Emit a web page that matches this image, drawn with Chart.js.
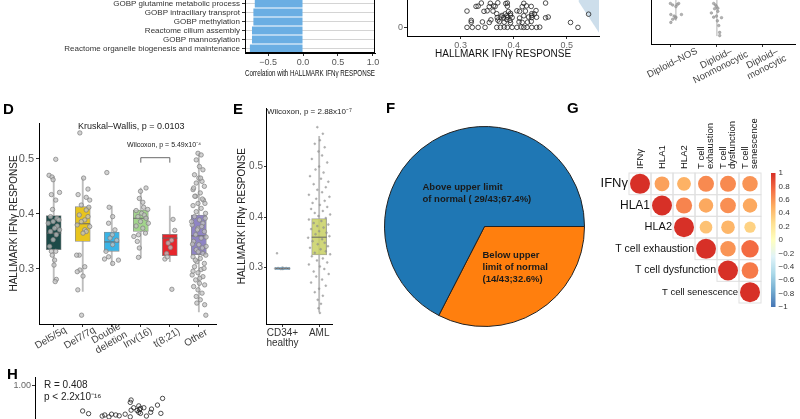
<!DOCTYPE html>
<html>
<head>
<meta charset="utf-8">
<script src="https://cdn.jsdelivr.net/npm/chart.js@4.4.1/dist/chart.umd.min.js"></script>
<style>
html, body { margin: 0; padding: 0; background: #fff; overflow: hidden; }
#wrap { position: relative; width: 800px; height: 419px; overflow: hidden; font-family: "Liberation Sans", Arial, sans-serif; }
canvas { position: absolute; }
.tag { position: absolute; font-weight: bold; font-size: 15px; line-height: 17px; color: #000; }
</style>
</head>
<body>
<div id="wrap">
  <canvas id="cA" width="400" height="80" style="left:0;top:-1px"></canvas>
  <canvas id="cB" width="214" height="140" style="left:390px;top:-80px"></canvas>
  <canvas id="cC" width="170" height="150" style="left:630px;top:-60px"></canvas>
  <canvas id="cD" width="225" height="260" style="left:0;top:100px"></canvas>
  <canvas id="cE" width="125" height="260" style="left:232px;top:100px"></canvas>
  <canvas id="cF" width="201" height="201" style="left:384px;top:126px"></canvas>
  <canvas id="cG" width="240" height="210" style="left:560px;top:110px"></canvas>
  <canvas id="cH" width="380" height="130" style="left:0;top:370px"></canvas>
  <div class="tag" style="left:3px;top:100px">D</div>
  <div class="tag" style="left:233px;top:100px">E</div>
  <div class="tag" style="left:386px;top:99px">F</div>
  <div class="tag" style="left:567px;top:99px">G</div>
  <div class="tag" style="left:7px;top:365px">H</div>
</div>
<script>
// ---- panel A: pathway correlations (top rows cut off) ----
const pathwayNames = ['GOBP glutamine metabolic process', 'GOBP intraciliary transprot', 'GOBP methylation',
  'Reactome cilium assembly', 'GOBP mannosylation', 'Reactome organelle biogenesis and maintenance'];
const pathwayCorr = [-0.69, -0.71, -0.71, -0.73, -0.73, -0.76];

// ---- panel B: scatter vs IFNγ score (upper part cut off) ----
const ifnPts = [
  [.312, 0], [.322, 0], [.333, 0], [.346, 0], [.368, 0], [.375, 0], [.382, .01], [.388, 0], [.397, 0], [.406, 0],
  [.414, .01], [.419, 0], [.425, 0], [.434, 0], [.443, 0], [.449, .01], [.521, 0],
  [.320, .20], [.341, .21], [.354, .19], [.373, .22], [.382, .20], [.394, .18], [.410, .21], [.416, .19], [.426, .20], [.433, .23], [.507, .19],
  [.320, .27], [.357, .29], [.370, .28], [.387, .30], [.393, .27],
  [.369, .38], [.376, .40], [.381, .37], [.388, .39], [.397, .38], [.411, .36], [.428, .40], [.434, .38], [.443, .39], [.460, .37], [.465, .40],
  [.378, .46], [.387, .45], [.394, .47], [.419, .45], [.434, .46],
  [.368, .53], [.384, .52], [.394, .54], [.434, .53], [.439, .52], [.541, .51],
  [.312, .63], [.344, .62], [.350, .64], [.361, .63], [.390, .61], [.406, .64], [.411, .62], [.422, .63], [.442, .65],
  [.329, .81], [.333, .82], [.354, .80], [.362, .83], [.365, .81], [.388, .82], [.416, .80], [.424, .83], [.433, .81],
  [.339, .94], [.356, .93], [.370, .95], [.385, .92], [.388, .94], [.419, .93], [.460, .94]
];
const bandX = [0.522, 0.561];
const bandY = [1.0, -0.22];

// ---- panel C: diploid subgroups (cut off) ----
const diploidNames = [['Diploid–NOS'], ['Diploid–', 'Nonmonocytic'], ['Diploid–', 'monocytic']];
const diploidPts = [
  [[0, .277], [.05, .274], [.12, .271], [.15, .275], [.01, .256], [.08, .253], [.12, .251], [.24, .256], [.01, .241], [.05, .247], [.11, .249], [.18, .277]],
  [[-.06, .277], [-.02, .274], [0, .271], [.03, .268], [-.04, .267], [-.06, .251], [0, .253], [.02, .244], [.05, .235], [.07, .222], [.11, .25], [.07, .216], [-.11, .259], [.03, .262]],
  []
];
const diploidWhisk = [[0.12, 0.244, 0.29], [0.01, 0.215, 0.29]];

// ---- panel D: cytogenetic groups ----
const groupNames = [['Del5/5q'], ['Del7/7q'], ['Double', 'deletion'], ['Inv(16)'], ['t(8;21)'], ['Other']];
const boxColors = ['#1d4a48', '#e8c41d', '#3ab4e6', '#a2d48c', '#e6262c', '#8f84c4'];
const boxQ1 = [0.335, 0.350, 0.332, 0.368, 0.324, 0.326];
const boxMed = [0.365, 0.382, 0.349, 0.392, 0.356, 0.360];
const boxQ3 = [0.397, 0.413, 0.367, 0.407, 0.363, 0.398];
const whiskLo = [0.280, 0.259, 0.307, 0.320, 0.313, 0.222];
const whiskHi = [0.468, 0.465, 0.414, 0.447, 0.414, 0.510];
const groupPts = [
  [[.07, .499], [-.16, .470], [-.06, .467], [-.02, .462], [-.08, .435], [.20, .439], [.07, .425], [-.04, .408], [-.11, .395], [.11, .392],
   [.18, .389], [-.02, .386], [-.19, .383], [.12, .378], [.03, .374], [.20, .371], [-.11, .368], [.09, .362], [-.02, .353], [-.14, .341],
   [-.08, .332], [.07, .332], [-.05, .325], [.03, .316], [.01, .307], [.09, .281], [.05, .277]],
  [[-.10, .547], [.03, .465], [.18, .445], [-.16, .435], [.12, .430], [.24, .425], [-.05, .416], [.21, .412], [.12, .407], [-.12, .398],
   [.18, .395], [.07, .389], [-.05, .386], [-.19, .380], [.24, .377], [.07, .371], [.12, .368], [.01, .365], [-.12, .325], [-.21, .325],
   [.07, .304], [-.10, .298], [.01, .287], [-.19, .295], [-.17, .262], [-.04, .216]],
  [[-.17, .475], [-.09, .412], [.03, .395], [-.11, .383], [.11, .371], [.02, .362], [-.06, .356], [.17, .352], [.03, .344], [-.20, .332],
   [-.11, .322], [.23, .316], [.03, .310], [-.25, .318]],
  [[.18, .447], [-.01, .441], [-.05, .428], [.07, .421], [.10, .412], [.24, .408], [-.16, .406], [.03, .401], [.12, .398], [-.10, .395],
   [.18, .392], [-.01, .386], [.26, .383], [-.16, .378], [.07, .374], [-.08, .362], [-.12, .350], [-.05, .338], [-.08, .321], [-.24, .359], [.16, .365]],
  [[.11, .390], [.17, .370], [.06, .352], [-.06, .347], [.02, .339], [-.11, .328], [-.17, .318], [-.09, .322], [.07, .263]],
  [[-.03, .510], [.08, .507], [-.09, .498], [.02, .486], [.14, .480], [-.15, .471], [0, .465], [.11, .459], [-.09, .456], [.19, .450],
   [-.20, .444], [.05, .438], [-.11, .432], [.16, .425], [-.03, .419], [-.20, .415], [.08, .410], [-.09, .404], [.23, .401], [-.15, .395],
   [.02, .389], [.14, .383], [-.23, .380], [-.03, .374], [.19, .368], [-.11, .362], [.08, .356], [-.18, .350], [0, .344], [.25, .341],
   [-.09, .335], [.14, .328], [-.20, .322], [.05, .319], [-.07, .313], [.19, .310], [-.15, .304], [.08, .299], [-.03, .293], [-.23, .289],
   [.14, .286], [-.11, .280], [.02, .274], [.20, .271], [-.18, .268], [-.03, .262], [.11, .256], [-.09, .250], [.05, .244], [.20, .235],
   [.24, .216], [-.07, .238], [.22, .392], [-.25, .386], [.10, .377], [-.05, .371], [.25, .358], [-.22, .345], [.12, .338], [-.02, .331],
   [.24, .325], [-.12, .316], [.18, .301], [-.20, .296], [.03, .283], [-.14, .432], [.21, .419], [.06, .465], [-.18, .447], [.12, .427]]
];

// ---- panel E: CD34+ healthy vs AML ----
const eNames = [['CD34+', 'healthy'], ['AML']];
const eColors = ['#3f7fa8', 'rgba(200,208,100,0.85)'];
const eBorders = ['#3f7fa8', '#a3a3a3'];
const eQ1 = [0.296, 0.325];
const eMed = [0.298, 0.360];
const eQ3 = [0.300, 0.397];
const eLo = [0.295, 0.212];
const eHi = [0.302, 0.560];
const ePts = [
  [[-.20, .298], [-.12, .299], [-.05, .297], [.03, .298], [.10, .299], [.18, .298], [-.15, .328]],
  [[-.05, .578], [.10, .565], [.02, .552], [-.12, .545], [.15, .538], [-.02, .530], [.08, .522], [-.20, .515], [.22, .508], [0, .500],
   [-.10, .494], [.12, .488], [-.25, .481], [.05, .476], [.25, .470], [-.15, .465], [.18, .459], [-.05, .454], [.08, .449], [-.28, .444],
   [.28, .440], [-.08, .436], [.15, .432], [-.18, .428], [.02, .424], [.22, .420], [-.22, .416], [.10, .412], [-.12, .408], [.30, .405],
   [-.02, .402], [.18, .398], [-.28, .395], [.06, .392], [-.15, .388], [.25, .385], [-.05, .382], [.12, .379], [-.22, .376], [0, .372],
   [.20, .369], [-.10, .366], [.28, .362], [-.30, .359], [.08, .356], [-.18, .352], [.15, .349], [-.04, .346], [.24, .342], [-.25, .339],
   [.04, .336], [.18, .332], [-.12, .329], [.30, .326], [-.20, .322], [.10, .318], [-.06, .314], [.22, .310], [-.28, .306], [.02, .302],
   [.14, .297], [-.15, .292], [.26, .287], [-.08, .282], [.08, .276], [-.22, .270], [.18, .264], [0, .258], [-.12, .251], [.10, .244],
   [-.04, .236], [.05, .228], [-.02, .219], [.02, .210]]
];

// ---- panel F: pie ----
const pieLabels = ['Below upper limit of normal', 'Above upper limit of normal'];
const pieCounts = [14, 29];
const pieColors = ['#ff7f0e', '#1f77b4'];
const pieText = [['Below upper', 'limit of normal', '(14/43;32.6%)'], ['Above upper limit', 'of normal ( 29/43;67.4%)']];

// ---- panel G: correlation matrix ----
const corrNames = ['IFNγ', 'HLA1', 'HLA2', 'T cell exhaustion', 'T cell dysfunction', 'T cell senescence'];
const corrColNames = [['IFNγ'], ['HLA1'], ['HLA2'], ['T cell', 'exhaustion'], ['T cell', 'dysfunction'], ['T cell', 'senescence']];
const corrUpper = [
  [1.00, 0.55, 0.48, 0.64, 0.64, 0.60],
  [null, 1.00, 0.66, 0.52, 0.62, 0.52],
  [null, null, 1.00, 0.40, 0.46, 0.32],
  [null, null, null, 1.00, 0.60, 0.76],
  [null, null, null, null, 1.00, 0.70],
  [null, null, null, null, null, 1.00]
];
const corrTicks = [1, 0.8, 0.6, 0.4, 0.2, 0, -0.2, -0.4, -0.6, -0.8, -1];
const rdylbu = ['#4575b4', '#74add1', '#abd9e9', '#e0f3f8', '#ffffbf', '#fee090', '#fdae61', '#f46d43', '#d73027'];

// ---- panel H: scatter (lower part cut off) ----
const hPts = [
  [.256, .903], [.263, .893], [.279, .884], [.282, .888], [.290, .891], [.295, .888], [.299, .885], [.306, .891], [.312, .935], [.313, .944],
  [.313, .906], [.316, .915], [.322, .922], [.324, .913], [.328, .915], [.322, .898], [.324, .894], [.331, .884], [.336, .898], [.337, .910],
  [.344, .925], [.348, .894], [.350, .950], [.312, .881], [.287, .881], [.320, .905], [.323, .908]
];

const FONT = '"Liberation Sans", Arial, sans-serif';
Chart.defaults.font.family = FONT;
Chart.defaults.animation = false;
Chart.defaults.responsive = false;
Chart.defaults.plugins.legend.display = false;
Chart.defaults.plugins.tooltip.enabled = false;

// fixes an axis box size so the plot area lands where the figure has it
function fitTo(size) {
  return function (s) {
    if (s.isHorizontal()) s.height = size; else s.width = size;
    s.paddingLeft = 0; s.paddingRight = 0; s.paddingTop = 0; s.paddingBottom = 0;
  };
}
function setTicks(vals) {
  return function (s) { s.ticks = vals.map(v => ({ value: v })); };
}
function fmt(v, d) {
  return (v < 0 ? '\u2212' : '') + Math.abs(v).toFixed(d);
}
function rotText(ctx, lines, x, y, deg, size, color) {
  ctx.save();
  ctx.translate(x, y);
  ctx.rotate(-deg * Math.PI / 180);
  ctx.font = size + 'px ' + FONT;
  ctx.fillStyle = color;
  ctx.textAlign = 'center';
  ctx.textBaseline = 'middle';
  const lh = size * 1.05;
  lines.forEach((t, k) => ctx.fillText(t, 0, (k - (lines.length - 1) / 2) * lh));
  ctx.restore();
}
function hexRgb(h) {
  return [parseInt(h.slice(1, 3), 16), parseInt(h.slice(3, 5), 16), parseInt(h.slice(5, 7), 16)];
}
function corrColor(v) {
  const t = (v + 1) / 2 * (rdylbu.length - 1);
  const i = Math.min(Math.floor(t), rdylbu.length - 2);
  const f = t - i;
  const a = hexRgb(rdylbu[i]), b = hexRgb(rdylbu[i + 1]);
  const c = a.map((x, k) => Math.round(x + (b[k] - x) * f));
  return 'rgb(' + c.join(',') + ')';
}

const axisGrey = '#555';

// panel A
const framePlugin = {
  id: 'frame',
  afterDraw(chart) {
    const { ctx, chartArea: ca } = chart;
    ctx.save();
    ctx.strokeStyle = '#000';
    ctx.lineWidth = 1;
    ctx.strokeRect(ca.left + 0.5, ca.top + 0.5, ca.width - 1, ca.height - 1);
    ctx.restore();
  }
};
new Chart(document.getElementById('cA'), {
  type: 'bar',
  data: {
    labels: pathwayNames,
    datasets: [{ data: pathwayCorr, backgroundColor: '#6aaee3', barPercentage: 0.9, categoryPercentage: 1 }]
  },
  options: {
    indexAxis: 'y',
    layout: { padding: { left: 0, right: 25, top: 0, bottom: 0 } },
    scales: {
      x: {
        type: 'linear', min: -0.83, max: 1.03,
        afterFit: fitTo(26), afterBuildTicks: setTicks([-0.5, 0, 0.5, 1]),
        ticks: { callback: v => fmt(v, 1), color: axisGrey, font: { size: 9 }, padding: 1 },
        grid: { drawOnChartArea: false, tickLength: 3, tickColor: '#333' },
        border: { color: '#000' },
        title: { display: true, text: 'Correlation with HALLMARK IFNγ RESPONSE', color: '#111', font: { size: 9 }, padding: 0 }
      },
      y: {
        afterFit: fitTo(245),
        ticks: { color: '#333', font: { size: 8 }, padding: 2, autoSkip: false },
        grid: { offset: false, color: '#d4d4d4', tickLength: 3, tickColor: '#333' },
        border: { color: '#000' }
      }
    }
  },
  plugins: [framePlugin]
});

// panel B
new Chart(document.getElementById('cB'), {
  type: 'scatter',
  data: {
    datasets: [
      { data: ifnPts.map(p => ({ x: p[0], y: p[1] })), pointRadius: 2.3, pointBackgroundColor: 'rgba(0,0,0,0)',
        pointBorderColor: '#222', pointBorderWidth: 0.8 },
      { type: 'line', data: bandX.map((x, i) => ({ x: x, y: bandY[i] })), fill: 'end',
        backgroundColor: 'rgba(178,205,224,0.65)', borderWidth: 0, pointRadius: 0 }
    ]
  },
  options: {
    layout: { padding: 0 },
    scales: {
      x: {
        type: 'linear', min: 0.199, max: 0.561,
        afterFit: fitTo(24), afterBuildTicks: setTicks([0.3, 0.4, 0.5]),
        ticks: { callback: v => v.toFixed(1), color: '#666', font: { size: 9 }, padding: 1 },
        grid: { display: true, drawOnChartArea: false, tickLength: 3, tickColor: '#333' },
        border: { color: '#000' },
        title: { display: true, text: 'HALLMARK IFNγ RESPONSE', color: '#111', font: { size: 10 }, padding: 0 }
      },
      y: {
        min: -0.333, max: 3.963,
        afterFit: fitTo(17), afterBuildTicks: setTicks([0]),
        ticks: { callback: v => String(v), color: '#666', font: { size: 9 }, padding: 1 },
        grid: { display: true, drawOnChartArea: false, tickLength: 3, tickColor: '#333' },
        border: { color: '#000' }
      }
    }
  }
});

// panel C
const diploidLabelPlugin = {
  id: 'diploidLabels',
  afterDraw(chart) {
    const xs = chart.scales.x, ca = chart.chartArea;
    diploidNames.forEach((lines, i) => {
      rotText(chart.ctx, lines, xs.getPixelForValue(i) + 2, ca.bottom + 19, 27, 9.5, '#444');
    });
  }
};
const cDatasets = [{
  data: diploidPts.flatMap((pts, i) => pts.map(p => ({ x: i + p[0], y: p[1] }))),
  pointRadius: 1.3, pointBackgroundColor: 'rgba(160,160,160,0.8)', pointBorderColor: '#8a8a8a', pointBorderWidth: 0.5
}];
diploidWhisk.forEach((w, i) => {
  cDatasets.push({ type: 'line', data: [{ x: i + w[0], y: w[1] }, { x: i + w[0], y: w[2] }],
    borderColor: '#b0b0b0', borderWidth: 1, pointRadius: 0 });
});
new Chart(document.getElementById('cC'), {
  type: 'scatter',
  data: { datasets: cDatasets },
  options: {
    layout: { padding: 0 },
    scales: {
      x: {
        type: 'linear', min: -0.421, max: 2.716,
        afterFit: fitTo(46), afterBuildTicks: setTicks([0, 1, 2]),
        ticks: { display: false },
        grid: { display: true, drawOnChartArea: false, tickLength: 3, tickColor: '#333' },
        border: { color: '#000' }
      },
      y: {
        min: 0.2, max: 0.389, afterFit: fitTo(21),
        ticks: { display: false }, grid: { display: false }, border: { color: '#000' }
      }
    }
  },
  plugins: [diploidLabelPlugin]
});

// panel D
const dAnnot = {
  id: 'dAnnot',
  afterDraw(chart) {
    const { ctx } = chart;
    const xs = chart.scales.x, ys = chart.scales.y, ca = chart.chartArea;
    ctx.save();
    ctx.fillStyle = '#222';
    ctx.textAlign = 'center';
    ctx.textBaseline = 'middle';
    ctx.font = '9px ' + FONT;
    ctx.fillText('Kruskal–Wallis, p = 0.0103', xs.getPixelForValue(2.67), ys.getPixelForValue(0.558));
    ctx.font = '7px ' + FONT;
    ctx.fillText('Wilcoxon, p = 5.49x10⁻⁴', xs.getPixelForValue(3.8), ys.getPixelForValue(0.525));
    const x1 = xs.getPixelForValue(3), x2 = xs.getPixelForValue(4);
    const yt = ys.getPixelForValue(0.502), yb = ys.getPixelForValue(0.493);
    ctx.strokeStyle = '#444';
    ctx.lineWidth = 0.8;
    ctx.beginPath();
    ctx.moveTo(x1, yb); ctx.lineTo(x1, yt); ctx.lineTo(x2, yt); ctx.lineTo(x2, yb);
    ctx.stroke();
    ctx.restore();
    groupNames.forEach((lines, i) => {
      rotText(ctx, lines, xs.getPixelForValue(i) - 3, ca.bottom + 14, 30, 10, '#444');
    });
  }
};
function boxDatasets(q1, med, q3, lo, hi, colors, borders, pts, thick, ptStyle) {
  return [
    Object.assign({ type: 'scatter', order: 1,
      data: pts.flatMap((g, i) => g.map(p => ({ x: i + p[0], y: p[1] }))) }, ptStyle),
    { type: 'scatter', order: 2, data: med.map((m, i) => ({ x: i, y: m })),
      pointStyle: 'line', pointRadius: thick / 2, pointBorderColor: '#666', pointBorderWidth: 1 },
    { type: 'bar', order: 3, grouped: false, data: q1.map((q, i) => ({ x: i, y: [q, q3[i]] })),
      backgroundColor: colors, borderColor: borders, borderWidth: 0.8, borderSkipped: false, barThickness: thick },
    { type: 'bar', order: 4, grouped: false, data: lo.map((l, i) => ({ x: i, y: [l, hi[i]] })),
      backgroundColor: '#bdbdbd', borderWidth: 0, barThickness: 1.2 }
  ];
}
new Chart(document.getElementById('cD'), {
  type: 'bar',
  data: {
    datasets: boxDatasets(boxQ1, boxMed, boxQ3, whiskLo, whiskHi, boxColors, '#8c8c8c', groupPts, 15,
      { pointRadius: 2.2, pointBackgroundColor: 'rgba(195,195,195,0.75)', pointBorderColor: '#7d7d7d', pointBorderWidth: 0.7 })
  },
  options: {
    layout: { padding: { top: 23, right: 5, left: 0, bottom: 0 } },
    scales: {
      x: {
        type: 'linear', offset: false, min: -0.507, max: 5.608,
        afterFit: fitTo(36), afterBuildTicks: setTicks([0, 1, 2, 3, 4, 5]),
        ticks: { display: false },
        grid: { display: true, offset: false, drawOnChartArea: false, tickLength: 3, tickColor: '#333' },
        border: { color: '#000' }
      },
      y: {
        min: 0.2, max: 0.565,
        afterFit: fitTo(39), afterBuildTicks: setTicks([0.3, 0.4, 0.5]),
        ticks: { callback: v => v.toFixed(1), color: axisGrey, font: { size: 11 }, padding: 2 },
        grid: { display: true, drawOnChartArea: false, tickLength: 3, tickColor: '#333' },
        border: { color: '#000' },
        title: { display: true, text: 'HALLMARK IFNγ RESPONSE', color: '#222', font: { size: 10 }, padding: { top: 8, bottom: 2 } }
      }
    }
  },
  plugins: [dAnnot]
});

// panel E
const eAnnot = {
  id: 'eAnnot',
  afterDraw(chart) {
    const { ctx, chartArea: ca } = chart;
    ctx.save();
    ctx.fillStyle = '#222';
    ctx.font = '8px ' + FONT;
    ctx.textAlign = 'left';
    ctx.textBaseline = 'middle';
    ctx.fillText('Wilcoxon, p = 2.88x10⁻⁷', ca.left + 1, ca.top + 3);
    ctx.restore();
  }
};
new Chart(document.getElementById('cE'), {
  type: 'bar',
  data: {
    datasets: boxDatasets(eQ1, eMed, eQ3, eLo, eHi, eColors, eBorders, ePts, 15,
      { pointRadius: 1, pointBackgroundColor: 'rgba(150,150,150,0.7)', pointBorderColor: 'rgba(130,130,130,0.7)', pointBorderWidth: 0.4 })
  },
  options: {
    layout: { padding: { top: 3, right: 25, left: 0, bottom: 0 } },
    scales: {
      x: {
        type: 'linear', offset: false, min: -0.45, max: 1.35,
        afterFit: fitTo(36), afterBuildTicks: setTicks([0, 1]),
        ticks: { callback: v => eNames[v], color: '#333', font: { size: 10, lineHeight: 1 }, maxRotation: 0, minRotation: 0, padding: 1 },
        grid: { display: true, offset: false, drawOnChartArea: false, tickLength: 3, tickColor: '#333' },
        border: { color: '#000' }
      },
      y: {
        min: 0.188, max: 0.615,
        afterFit: fitTo(34), afterBuildTicks: setTicks([0.3, 0.4, 0.5]),
        ticks: { callback: v => v.toFixed(1), color: axisGrey, font: { size: 10 }, padding: 1 },
        grid: { display: true, drawOnChartArea: false, tickLength: 2, tickColor: '#333' },
        border: { color: '#000' },
        title: { display: true, text: 'HALLMARK IFNγ RESPONSE', color: '#222', font: { size: 10 }, padding: { top: 4, bottom: 0 } }
      }
    }
  },
  plugins: [eAnnot]
});

// panel F
const pieTextPlugin = {
  id: 'pieText',
  afterDraw(chart) {
    const { ctx } = chart;
    const arc = chart.getDatasetMeta(0).data[0];
    const cx = arc.x, cy = arc.y;
    ctx.save();
    ctx.fillStyle = '#1a1a1a';
    ctx.font = 'bold 9.5px ' + FONT;
    ctx.textAlign = 'left';
    ctx.textBaseline = 'middle';
    pieText[1].forEach((t, k) => ctx.fillText(t, cx - 62, cy - 39 + k * 12));
    pieText[0].forEach((t, k) => ctx.fillText(t, cx - 2, cy + 29 + k * 12));
    ctx.restore();
  }
};
new Chart(document.getElementById('cF'), {
  type: 'pie',
  data: {
    labels: pieLabels,
    datasets: [{ data: pieCounts, backgroundColor: pieColors, borderColor: '#222', borderWidth: 1 }]
  },
  options: { rotation: 90, layout: { padding: 0 } },
  plugins: [pieTextPlugin]
});

// panel G
const rowFont = [13, 12, 11, 10.5, 10.5, 9.5];
const corrPlugin = {
  id: 'corrGrid',
  beforeDatasetsDraw(chart) {
    const { ctx } = chart;
    const xs = chart.scales.x, ys = chart.scales.y;
    ctx.save();
    ctx.strokeStyle = '#e0e0e0';
    ctx.lineWidth = 1;
    corrUpper.forEach((row, i) => row.forEach((v, j) => {
      if (v === null) return;
      const x0 = xs.getPixelForValue(j - 0.5), x1 = xs.getPixelForValue(j + 0.5);
      const y0 = ys.getPixelForValue(i - 0.5), y1 = ys.getPixelForValue(i + 0.5);
      ctx.strokeRect(x0, y0, x1 - x0, y1 - y0);
    }));
    ctx.restore();
  },
  afterDraw(chart) {
    const { ctx, chartArea: ca } = chart;
    const xs = chart.scales.x, ys = chart.scales.y;
    ctx.save();
    ctx.fillStyle = '#111';
    ctx.textBaseline = 'middle';
    ctx.textAlign = 'right';
    corrNames.forEach((n, i) => {
      ctx.font = rowFont[i] + 'px ' + FONT;
      ctx.fillText(n, xs.getPixelForValue(i - 0.5) - 1, ys.getPixelForValue(i));
    });
    ctx.font = '9.5px ' + FONT;
    ctx.textAlign = 'left';
    corrColNames.forEach((lines, j) => {
      lines.forEach((t, k) => {
        ctx.save();
        ctx.translate(xs.getPixelForValue(j) + (k - (lines.length - 1) / 2) * 9, ca.top - 4);
        ctx.rotate(-Math.PI / 2);
        ctx.fillText(t, 0, 0);
        ctx.restore();
      });
    });
    // colour bar
    const bx = ca.right + 10, bw = 4.5, top = ca.top, bot = ca.bottom + 4;
    const g = ctx.createLinearGradient(0, top, 0, bot);
    rdylbu.forEach((c, k) => g.addColorStop(1 - k / (rdylbu.length - 1), c));
    ctx.fillStyle = g;
    ctx.fillRect(bx, top, bw, bot - top);
    ctx.fillStyle = '#333';
    ctx.font = '8px ' + FONT;
    ctx.textAlign = 'left';
    corrTicks.forEach((t, k) => {
      const y = top + (bot - top) * k / (corrTicks.length - 1);
      ctx.fillText(fmt(t, t === 0 || Math.abs(t) === 1 ? 0 : 1), bx + bw + 3, y);
    });
    ctx.restore();
  }
};
const corrPts = [];
corrUpper.forEach((row, i) => row.forEach((v, j) => {
  if (v !== null) corrPts.push({ x: j, y: i, r: 10 * Math.sqrt(Math.abs(v)), v: v });
}));
new Chart(document.getElementById('cG'), {
  type: 'bubble',
  data: {
    datasets: [{ data: corrPts, backgroundColor: c => corrColor(c.raw ? c.raw.v : 0), borderWidth: 0, clip: false }]
  },
  options: {
    layout: { padding: { left: 69, top: 63, right: 39, bottom: 17 } },
    scales: {
      x: { display: false, min: -0.5, max: 5.5 },
      y: { display: false, reverse: true, min: -0.5, max: 5.5 }
    }
  },
  plugins: [corrPlugin]
});

// panel H
const hAnnot = {
  id: 'hAnnot',
  afterDraw(chart) {
    const { ctx, chartArea: ca } = chart;
    const ys = chart.scales.y;
    ctx.save();
    ctx.fillStyle = '#222';
    ctx.font = '10px ' + FONT;
    ctx.textAlign = 'left';
    ctx.textBaseline = 'middle';
    ctx.fillText('R = 0.408', ca.left + 9, ys.getPixelForValue(1.0));
    ctx.fillText('p < 2.2x10⁻¹⁶', ca.left + 9, ys.getPixelForValue(1.0) + 12);
    ctx.restore();
  }
};
new Chart(document.getElementById('cH'), {
  type: 'scatter',
  data: {
    datasets: [{ data: hPts.map(p => ({ x: p[0], y: p[1] })), pointRadius: 2.2,
      pointBackgroundColor: 'rgba(0,0,0,0)', pointBorderColor: '#222', pointBorderWidth: 0.8 }]
  },
  options: {
    layout: { padding: { top: 7, left: 0, right: 0, bottom: 0 } },
    scales: {
      x: { type: 'linear', min: 0.2, max: 0.6, afterFit: fitTo(8), ticks: { display: false }, grid: { display: false }, border: { color: '#000' } },
      y: {
        min: 0.6, max: 1.03,
        afterFit: fitTo(35), afterBuildTicks: setTicks([1.0, 0.75]),
        ticks: { callback: v => v.toFixed(2), color: '#666', font: { size: 9 }, padding: 1 },
        grid: { display: true, drawOnChartArea: false, tickLength: 3, tickColor: '#333' },
        border: { color: '#000' }
      }
    }
  },
  plugins: [hAnnot]
});
</script>
</body>
</html>
